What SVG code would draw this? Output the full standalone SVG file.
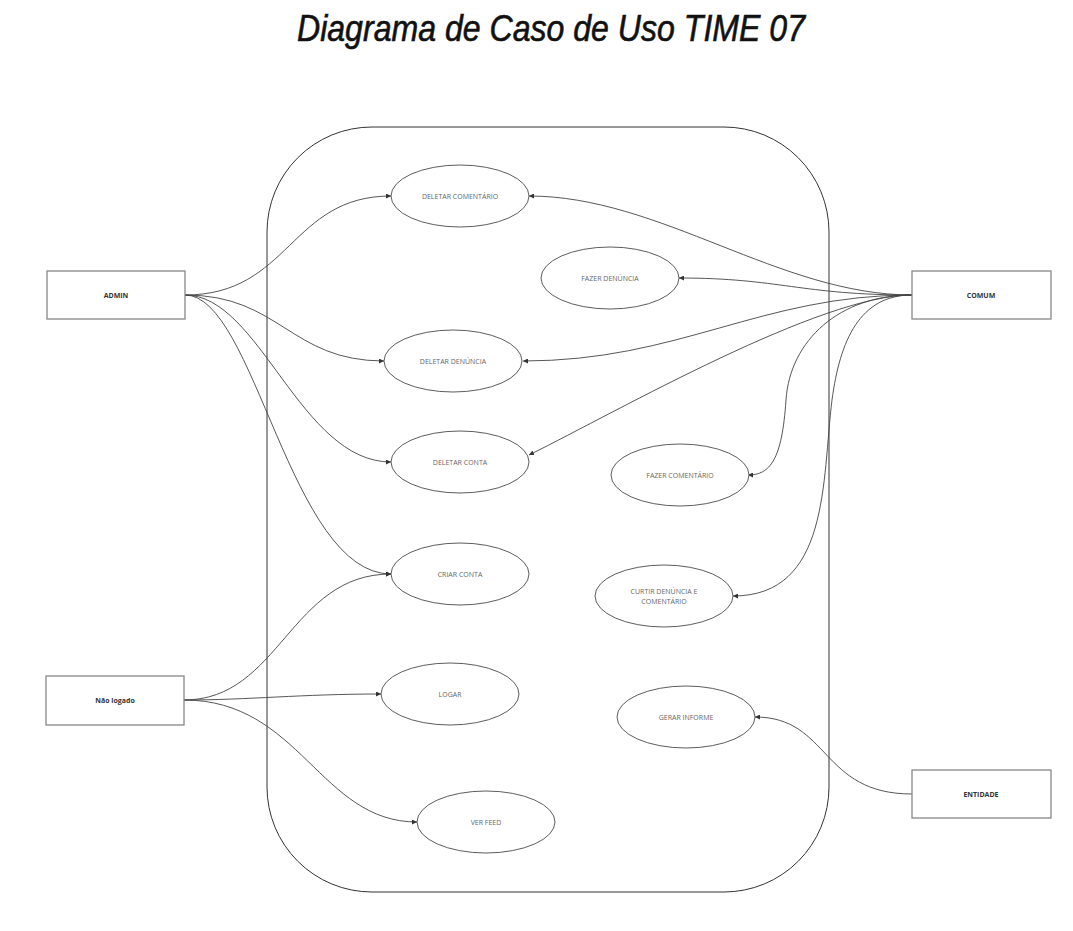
<svg xmlns="http://www.w3.org/2000/svg" width="1073" height="931" viewBox="0 0 1073 931">
<style>
.actor rect{fill:#fff;stroke:#888;stroke-width:1.3}
.actor text{font-family:"Open Sans","Liberation Sans",sans-serif;font-size:7px;font-weight:bold;fill:#333;text-anchor:middle;dominant-baseline:central}
.uc ellipse{fill:#fff;stroke:#333;stroke-width:0.8}
.uc text{font-family:"Open Sans","Liberation Sans",sans-serif;font-size:7px;fill:#666;text-anchor:middle;dominant-baseline:central}
#connectors path{fill:none;stroke:#444;stroke-width:0.9;marker-end:url(#arr)}
</style>
<defs>
<marker id="arr" markerUnits="userSpaceOnUse" markerWidth="6" markerHeight="5" refX="5" refY="2.5" orient="auto">
<path d="M0,0 L5,2.5 L0,5 Z" fill="#333"/>
</marker>
</defs>
<rect width="1073" height="931" fill="#fff"/>
<text x="551" y="41" text-anchor="middle" font-family="Liberation Sans, sans-serif" font-style="italic" font-size="36" fill="#111" stroke="#111" stroke-width="0.6" textLength="508" lengthAdjust="spacingAndGlyphs">Diagrama de Caso de Uso TIME 07</text>
<g id="system">
<rect x="267" y="127" width="562" height="765" rx="105" ry="105" fill="none" stroke="#333" stroke-width="1"/>
</g>
<g id="connectors">
<path d="M185,295 C290,295 290,196 391,196"/>
<path d="M185,295 C280,295 290,361 384,361"/>
<path d="M185,295 C260,295 300,462 391,462"/>
<path d="M185,295 C255,295 290,574 391,574"/>
<path d="M912,295 C780,295 660,196 529,196"/>
<path d="M912,295 C800,295 780,278 679,278"/>
<path d="M912,295 C760,295 680,361 523,361"/>
<path d="M912,295 C820,295 620,410 529,455"/>
<path d="M912,295 C840,295 790,340 786,400 C782,460 770,475 748,475"/>
<path d="M912,295 C860,295 840,340 832,400 C822,480 830,596 733,596"/>
<path d="M912,794 C820,794 830,717 755,717"/>
<path d="M184,700 C280,700 290,574 391,574"/>
<path d="M184,700 C250,700 300,694 381,694"/>
<path d="M184,700 C300,700 320,822 417,822"/>
</g>
<g id="admin" class="actor"><rect x="47" y="271" width="138" height="48"/><text x="116" y="295">ADMIN</text></g>
<g id="comum" class="actor"><rect x="912" y="271" width="139" height="48"/><text x="981" y="295">COMUM</text></g>
<g id="nao-logado" class="actor"><rect x="46" y="676" width="138" height="49"/><text x="115" y="700">Não logado</text></g>
<g id="entidade" class="actor"><rect x="912" y="770" width="139" height="48"/><text x="981" y="794">ENTIDADE</text></g>
<g id="uc-deletar-comentario" class="uc"><ellipse cx="460" cy="196" rx="69" ry="31"/><text x="460" y="196">DELETAR COMENTÁRIO</text></g>
<g id="uc-fazer-denuncia" class="uc"><ellipse cx="610" cy="278" rx="69" ry="31"/><text x="610" y="278">FAZER DENÚNCIA</text></g>
<g id="uc-deletar-denuncia" class="uc"><ellipse cx="453" cy="361" rx="69" ry="31"/><text x="453" y="361">DELETAR DENÚNCIA</text></g>
<g id="uc-deletar-conta" class="uc"><ellipse cx="460" cy="462" rx="69" ry="31"/><text x="460" y="462">DELETAR CONTA</text></g>
<g id="uc-fazer-comentario" class="uc"><ellipse cx="680" cy="475" rx="69" ry="31"/><text x="680" y="475">FAZER COMENTÁRIO</text></g>
<g id="uc-criar-conta" class="uc"><ellipse cx="460" cy="574" rx="69" ry="31"/><text x="460" y="574">CRIAR CONTA</text></g>
<g id="uc-curtir" class="uc"><ellipse cx="664" cy="596" rx="69" ry="31"/><text x="664" y="591">CURTIR DENÚNCIA E</text><text x="664" y="601">COMENTÁRIO</text></g>
<g id="uc-logar" class="uc"><ellipse cx="450" cy="694" rx="69" ry="31"/><text x="450" y="694">LOGAR</text></g>
<g id="uc-gerar-informe" class="uc"><ellipse cx="686" cy="717" rx="69" ry="31"/><text x="686" y="717">GERAR INFORME</text></g>
<g id="uc-ver-feed" class="uc"><ellipse cx="486" cy="822" rx="69" ry="31"/><text x="486" y="822">VER FEED</text></g>
</svg>
